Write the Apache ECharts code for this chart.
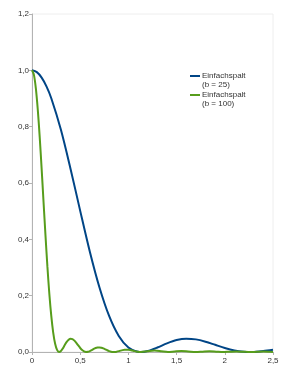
<!DOCTYPE html>
<html><head><meta charset="utf-8">
<script src="https://cdn.jsdelivr.net/npm/echarts@6/dist/echarts.min.js"></script>
<style>html,body{margin:0;padding:0;background:#fff}#c{width:300px;height:377px}</style>
</head><body><div id="c"></div>
<script>
var xTicks = ['0','0,5','1','1,5','2','2,5'];
var yTicks = ['0,0','0,2','0,4','0,6','0,8','1,0','1,2'];
var seriesNames = ['Einfachspalt\n(b = 25)', 'Einfachspalt\n(b = 100)'];
var seriesColors = ['#004586', '#579d1c'];
var blueX = [0,0.05,0.1,0.15,0.2,0.3,0.4,0.5,0.6,0.7,0.8,0.9,1.0,1.1,1.13,1.2,1.3,1.4,1.5,1.6,1.7,1.8,1.9,2.0,2.1,2.2,2.26,2.3,2.4,2.5];
var blueY = [1,0.9936,0.974,0.943,0.901,0.789,0.650,0.501,0.356,0.229,0.128,0.057,0.016,0.0008,0,0.0033,0.0158,0.0307,0.0424,0.0471,0.0448,0.0367,0.0255,0.0142,0.0055,0.0007,0,0.0003,0.0032,0.0078];
var greenX = [0,0.02,0.04,0.06,0.08,0.10,0.12,0.14,0.16,0.18,0.20,0.22,0.24,0.26,0.28,0.30,0.32,0.34,0.36,0.38,0.40,0.42,0.44,0.46,0.48,0.50,0.52,0.54,0.56,0.58,0.60,0.62,0.64,0.66,0.68,0.70,0.72,0.74,0.76,0.78,0.80,0.82,0.84,0.86,0.88,0.90,0.92,0.94,0.96,0.98,1.00,1.02,1.04,1.06,1.08,1.10,1.13,1.20,1.27,1.34,1.41,1.48,1.55,1.62,1.70,1.77,1.84,1.91,1.98,2.05,2.12,2.19,2.26,2.33,2.40,2.47,2.5];
var greenY = [1,0.984,0.936,0.860,0.763,0.650,0.531,0.413,0.302,0.206,0.128,0.069,0.029,0.0073,0.0001,0.0033,0.0129,0.0249,0.0358,0.0437,0.0471,0.0458,0.0404,0.0323,0.0232,0.0142,0.0069,0.0021,0.0001,0.0007,0.0032,0.0067,0.0108,0.0141,0.0160,0.0164,0.0152,0.0128,0.0096,0.0062,0.0032,0.0011,0.0001,0.0002,0.0013,0.0030,0.0050,0.0067,0.0079,0.0083,0.0080,0.0069,0.0053,0.0036,0.0019,0.0007,0,0.0027,0.0049,0.0027,0,0.0019,0.0034,0.0019,0,0.0013,0.0024,0.0013,0,0.0010,0.0018,0.0010,0,0.0007,0.0014,0.0007,0.0002];
function pairs(xs, ys){ return xs.map(function(x,i){ return [x, ys[i]]; }); }
var chart = echarts.init(document.getElementById('c'), null, {renderer:'canvas'});
var fontFam = 'Liberation Sans, Arial, sans-serif';
var axisTextStyle = {color:'#333', fontSize:8, fontFamily:fontFam};
var legendGraphics = [];
seriesNames.forEach(function(n, i){
  var y0 = 76 + i*19;
  legendGraphics.push({type:'line', shape:{x1:190, y1:y0, x2:200, y2:y0}, style:{stroke:seriesColors[i], lineWidth:2}});
  legendGraphics.push({type:'text', x:202, y:y0-5, style:{text:n, fill:'#333', font:'8px ' + fontFam, lineHeight:9, textVerticalAlign:'top'}});
});
chart.setOption({
  animation:false,
  grid:{left:32, right:27, top:14, bottom:25, show:true, borderColor:'#eeeeee', borderWidth:1},
  graphic:legendGraphics,
  xAxis:{
    type:'value', min:0, max:2.5, interval:0.5,
    axisLine:{lineStyle:{color:'#b3b3b3'}},
    axisTick:{show:true, length:3, lineStyle:{color:'#b3b3b3'}},
    splitLine:{show:false},
    axisLabel:Object.assign({margin:5, formatter:function(v){ var i=Math.round(v/0.5); return xTicks[i]; }}, axisTextStyle)
  },
  yAxis:{
    type:'value', min:0, max:1.2, interval:0.2,
    axisLine:{show:true, lineStyle:{color:'#b3b3b3'}},
    axisTick:{show:true, length:3, lineStyle:{color:'#b3b3b3'}},
    splitLine:{show:false},
    axisLabel:Object.assign({margin:3, formatter:function(v){ var i=Math.round(v/0.2); return yTicks[i]; }}, axisTextStyle)
  },
  series:[
    {name:seriesNames[0], type:'line', data:pairs(blueX, blueY), smooth:0.3, showSymbol:false, lineStyle:{color:seriesColors[0], width:2}, itemStyle:{color:seriesColors[0]}},
    {name:seriesNames[1], type:'line', data:pairs(greenX, greenY), smooth:0.3, showSymbol:false, lineStyle:{color:seriesColors[1], width:2}, itemStyle:{color:seriesColors[1]}}
  ]
});
</script>
</body></html>
